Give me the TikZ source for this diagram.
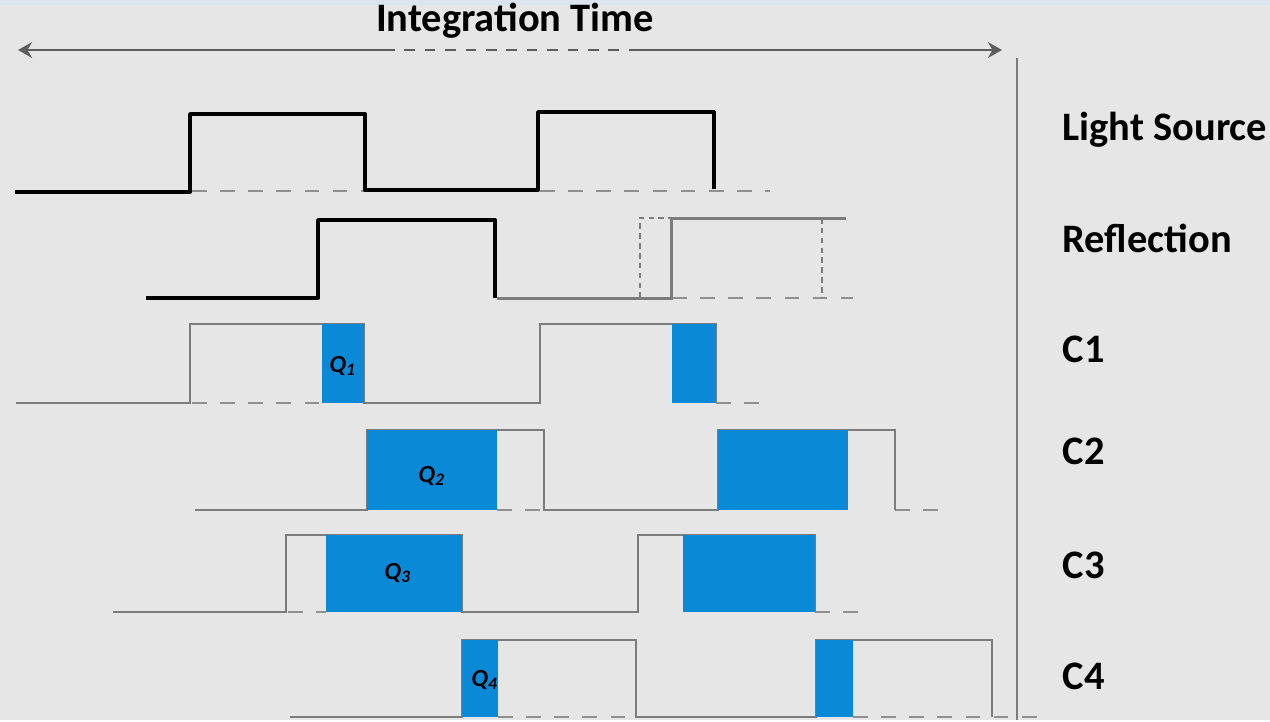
\documentclass[tikz,border=0pt]{standalone}
\usepackage{fontspec}
\setmainfont{Carlito}
\usepackage{xcolor}
\usetikzlibrary{arrows.meta}

\definecolor{bggray}{HTML}{E6E6E6}
\definecolor{topblue}{HTML}{DCE5EF}
\definecolor{wavegray}{HTML}{7C7C7C}
\definecolor{linegray}{HTML}{5E5E5E}
\definecolor{qblue}{HTML}{0A89D6}

\tikzset{
  pulse/.style={black, line width=1.1pt, line join=round},
  gate/.style={wavegray, line width=0.7pt},
  ghost/.style={wavegray!85, line width=0.75pt, dash pattern=on 4.2pt off 3.8pt},
  fine dash/.style={wavegray, line width=0.65pt, dash pattern=on 1.6pt off 1.2pt},
  charge/.style={fill=qblue},
  timeline/.style={linegray, line width=0.8pt},
  lbl/.style={font=\bfseries\fontsize{11.5}{13}\selectfont, anchor=base west, inner sep=0},
  qlbl/.style={font=\bfseries\itshape\fontsize{7}{8}\selectfont, inner sep=0}
}

\begin{document}
\begin{tikzpicture}[x=0.01cm, y=-0.01cm]
        % Canvas
        \fill[bggray] (0,0) rectangle (1270,720);
        \fill[topblue] (0,0) rectangle (1270,5);

        % Integration time arrow
        \coordinate (tstart) at (18,50);
        \coordinate (dashA) at (384,50);
        \coordinate (dashB) at (632,50);
        \coordinate (tend) at (1002,50);
        \node[font=\bfseries\fontsize{11.5}{13}\selectfont, anchor=base, inner sep=0] (title) at (515,31) {Integration Time};
        \draw[timeline, {Stealth[length=4pt,width=4.5pt]}-] (tstart) -- (dashA);
        \draw[timeline, dash pattern=on 3pt off 2.8pt] (dashA) -- (dashB);
        \draw[timeline, -{Stealth[length=4pt,width=4.5pt]}] (dashB) -- (tend);

        % Separator
        \coordinate (septop) at (1017,58);
        \coordinate (sepbot) at (1017,720);
        \draw[wavegray, line width=0.6pt] (septop) -- (sepbot);

        % Row labels
        \foreach \name/\txt/\y in {lsrc/Light Source/140, refl/Reflection/252, c1/C1/362, c2/C2/464, c3/C3/578, c4/C4/689}
            \node[lbl] (\name) at (1062,\y) {\txt};

        % Light source
        \draw[ghost] (192,191) -- (364,191);
        \draw[ghost] (540,191) -- (770,191);
        \draw[pulse] (15,192) -| (190,114) -| (365,190) -| (538,112) -| (714,189);

        % Reflection
        \draw[ghost] (672,298) -- (853,298);
        \draw[fine dash] (640,298) -- (640,218) -- (671,218);
        \draw[fine dash] (822,218) -- (822,298);
        \draw[gate, line width=0.85pt] (497,298) -- (671,298) |- (846,218);
        \draw[pulse] (146,298) -| (318,220) -| (495,298);

        % C1
        \draw[ghost] (192,403) -- (322,403);
        \draw[ghost] (716,403) -- (770,403);
        \draw[gate] (16,403) -| (190,324) -| (364,403) -| (540,324) -| (716,403);
        \fill[charge] (322,324) rectangle (364,403);
        \fill[charge] (672,324) rectangle (716,403);
        \node[qlbl] (q1) at (343,366) {Q\textsubscript{1}};

        % C2
        \draw[ghost] (497,510) -- (544,510);
        \draw[ghost] (895,510) -- (948,510);
        \draw[gate] (195,510) -| (367,430) -| (544,510) -| (718,430) -| (895,510);
        \fill[charge] (367,430) rectangle (497,510);
        \fill[charge] (718,430) rectangle (848,510);
        \node[qlbl] (q2) at (432,476) {Q\textsubscript{2}};

        % C3
        \draw[ghost] (288,612) -- (326,612);
        \draw[ghost] (815,612) -- (868,612);
        \draw[gate] (113,612) -| (286,535) -| (462,612) -| (638,535) -| (815,612);
        \fill[charge] (326,535) rectangle (462,612);
        \fill[charge] (683,535) rectangle (815,612);
        \node[qlbl] (q3) at (398,573) {Q\textsubscript{3}};

        % C4
        \draw[ghost] (498,717) -- (636,717);
        \draw[ghost] (853,717) -- (1040,717);
        \draw[gate] (290,717) -| (462,640) -| (636,717) -| (816,640) -| (992,717);
        \fill[charge] (462,640) rectangle (498,717);
        \fill[charge] (816,640) rectangle (853,717);
        \node[qlbl] (q4) at (485,680) {Q\textsubscript{4}};
\end{tikzpicture}
\end{document}
